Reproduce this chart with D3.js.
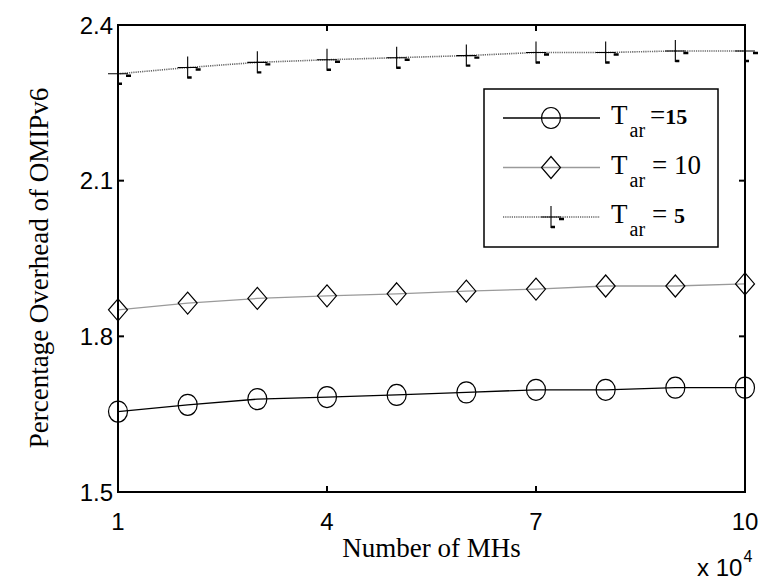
<!DOCTYPE html>
<html>
<head>
<meta charset="utf-8">
<script src="https://cdn.jsdelivr.net/npm/d3@7"></script>
<style>
  body { margin: 0; background: #fff; }
  svg { display: block; }
</style>
</head>
<body>
<svg id="chart" width="760" height="581"></svg>
<script>
// values (x in units of 10^4 MHs)
const mhs = [1, 2, 3, 4, 5, 6, 7, 8, 9, 10];
const tar15 = [1.655, 1.668, 1.679, 1.683, 1.687, 1.692, 1.697, 1.697, 1.701, 1.701];
const tar10 = [1.851, 1.864, 1.873, 1.878, 1.882, 1.887, 1.891, 1.897, 1.897, 1.901];
const tar5 = [2.306, 2.318, 2.328, 2.333, 2.337, 2.341, 2.347, 2.347, 2.350, 2.350];
const xTicks = [1, 4, 7, 10];
const yTicks = [1.5, 1.8, 2.1, 2.4];
const legendNames = ["15", "10", "5"];

const sans = "'Liberation Sans', Arial, sans-serif";
const serif = "'Liberation Serif', 'Times New Roman', serif";

const svg = d3.select("#chart");
const plotL = 118, plotR = 745, plotT = 25, plotB = 492;

const x = d3.scaleLinear().domain([1, 10]).range([plotL, plotR]);
const y = d3.scaleLinear().domain([1.5, 2.4]).range([plotB, plotT]);

const series = [
  {vals: tar15, color: "#000", dash: null, marker: "circle"},
  {vals: tar10, color: "#9a9a9a", dash: null, marker: "diamond"},
  {vals: tar5, color: "#666", dash: "1.2,1", marker: "plus"}
];

function drawMarker(g, kind, cx, cy) {
  if (kind == "circle") {
    g.append("ellipse").attr("cx", cx).attr("cy", cy).attr("rx", 9.5).attr("ry", 10.5)
      .attr("fill", "none").attr("stroke", "#000").attr("stroke-width", 1.2);
  } else if (kind == "diamond") {
    g.append("path")
      .attr("d", `M${cx},${cy - 11}L${cx + 9.5},${cy}L${cx},${cy + 11}L${cx - 9.5},${cy}Z`)
      .attr("fill", "none").attr("stroke", "#000").attr("stroke-width", 1.2);
  } else {
    g.append("path")
      .attr("d", `M${cx},${cy - 11}V${cy + 11}M${cx - 10},${cy}H${cx + 10}`)
      .attr("stroke", "#000").attr("stroke-width", 1.1);
    // little rendering stubs that show on the original plus marks
    g.append("path")
      .attr("d", `M${cx},${cy + 10}h4M${cx + 8},${cy + 2}h5`)
      .attr("stroke", "#000").attr("stroke-width", 2.4);
  }
}

// lines and markers
series.forEach(s => {
  const pts = mhs.map((m, i) => [x(m), y(s.vals[i])]);
  svg.append("path")
    .attr("d", d3.line()(pts))
    .attr("fill", "none")
    .attr("stroke", s.color)
    .attr("stroke-width", s.marker == "plus" ? 1.6 : 1.3)
    .attr("stroke-dasharray", s.dash);
  const g = svg.append("g");
  pts.forEach(p => drawMarker(g, s.marker, p[0], p[1]));
});

// axes box
svg.append("rect")
  .attr("x", plotL).attr("y", plotT)
  .attr("width", plotR - plotL).attr("height", plotB - plotT)
  .attr("fill", "none").attr("stroke", "#000").attr("stroke-width", 2);

const tickLen = 6;
const ticks = svg.append("g").attr("stroke", "#000").attr("stroke-width", 2);
xTicks.forEach(t => {
  ticks.append("line").attr("x1", x(t)).attr("x2", x(t)).attr("y1", plotB).attr("y2", plotB - tickLen);
  ticks.append("line").attr("x1", x(t)).attr("x2", x(t)).attr("y1", plotT).attr("y2", plotT + tickLen);
});
yTicks.forEach(t => {
  ticks.append("line").attr("x1", plotL).attr("x2", plotL + tickLen).attr("y1", y(t)).attr("y2", y(t));
  ticks.append("line").attr("x1", plotR).attr("x2", plotR - tickLen).attr("y1", y(t)).attr("y2", y(t));
});

// tick labels
svg.append("g").selectAll("text").data(xTicks).join("text")
  .attr("x", d => x(d)).attr("y", 530)
  .attr("text-anchor", "middle")
  .attr("font-family", sans)
  .attr("font-size", 24)
  .text(d => d);

svg.append("g").selectAll("text").data(yTicks).join("text")
  .attr("x", plotL - 5).attr("y", d => y(d) + 8.5)
  .attr("text-anchor", "end")
  .attr("font-family", sans)
  .attr("font-size", 24)
  .text(d => d3.format(".1f")(d));

// exponent
const ex = svg.append("text")
  .attr("x", 697).attr("y", 576)
  .attr("font-family", sans)
  .attr("font-size", 24);
ex.append("tspan").text("x 10");
ex.append("tspan").attr("dx", 1).attr("dy", -14).attr("font-size", 16).text("4");

// axis titles
svg.append("text")
  .attr("x", (plotL + plotR) / 2).attr("y", 557)
  .attr("text-anchor", "middle")
  .attr("font-family", serif)
  .attr("font-size", 27)
  .text("Number of MHs");

svg.append("text")
  .attr("transform", "translate(48,268) rotate(-90)")
  .attr("text-anchor", "middle")
  .attr("font-family", serif)
  .attr("font-size", 27)
  .text("Percentage Overhead of OMIPv6");

// legend
const lg = svg.append("g");
lg.append("rect")
  .attr("x", 484).attr("y", 89).attr("width", 234).attr("height", 158)
  .attr("fill", "#fff").attr("stroke", "#000").attr("stroke-width", 1.5);

series.forEach((s, i) => {
  const ly = 118 + i * 49.5;
  lg.append("line")
    .attr("x1", 503).attr("x2", 600).attr("y1", ly).attr("y2", ly)
    .attr("stroke", s.color)
    .attr("stroke-width", s.marker == "plus" ? 1.6 : 1.3)
    .attr("stroke-dasharray", s.dash);
  drawMarker(lg, s.marker, 551, ly);
  const t = lg.append("text")
    .attr("x", 611).attr("y", ly + 6)
    .attr("font-family", serif)
    .attr("font-size", 27);
  t.append("tspan").text("T");
  t.append("tspan").attr("dy", 13).attr("dx", 2).attr("font-size", 20).text("ar");
  t.append("tspan").attr("dy", -13).attr("dx", i == 0 ? 5 : 7).text(i == 0 ? "=" : "= ");
  t.append("tspan").attr("font-size", i == 1 ? 27 : 22)
    .attr("font-weight", i == 1 ? "normal" : "bold")
    .text(legendNames[i]);
});
</script>
</body>
</html>
